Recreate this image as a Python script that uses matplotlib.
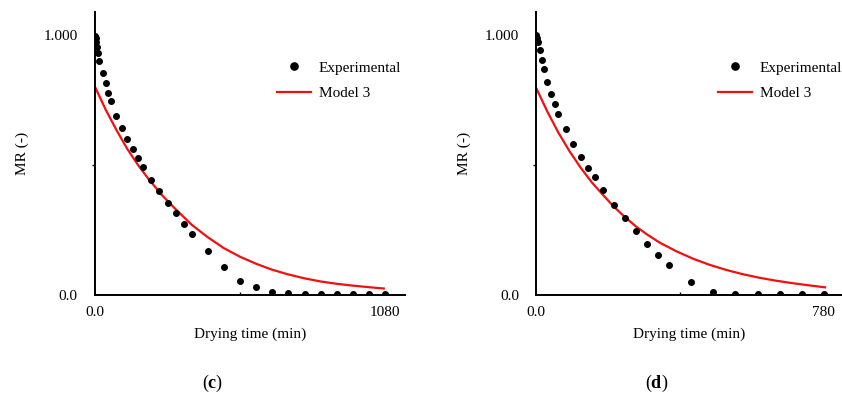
import matplotlib
matplotlib.use("Agg")
import matplotlib.pyplot as plt

plt.rcParams['font.family'] = ['Liberation Serif', 'DejaVu Serif']
plt.rcParams['mathtext.fontset'] = 'custom'
plt.rcParams['mathtext.rm'] = 'Liberation Serif'
plt.rcParams['mathtext.bf'] = 'Liberation Serif:bold'

font_size = 11

# panel (c)
c_time = [0, 2.5, 5, 7.5, 10, 15, 30, 40, 50, 60, 80, 100, 120, 140, 160, 180, 210,
          240, 270, 300, 330, 360, 420, 480, 540, 600, 660, 720, 780, 840, 900,
          960, 1020, 1080]
c_mr = [0.996, 0.988, 0.974, 0.955, 0.929, 0.901, 0.855, 0.814, 0.778, 0.744, 0.690,
        0.642, 0.600, 0.560, 0.526, 0.491, 0.441, 0.399, 0.355, 0.314, 0.273, 0.236,
        0.169, 0.109, 0.054, 0.031, 0.013, 0.006, 0.004, 0.003, 0.003, 0.003, 0.003,
        0.003]
c_model_time = [0, 40, 80, 120, 160, 200, 250, 300, 360, 420, 480, 540, 600, 660, 720,
                780, 840, 900, 960, 1020, 1075]
c_model_mr = [0.800, 0.712, 0.634, 0.562, 0.500, 0.445, 0.383, 0.330, 0.270, 0.222,
              0.180, 0.147, 0.120, 0.097, 0.079, 0.064, 0.052, 0.043, 0.036, 0.030,
              0.025]

# panel (d)
d_time = [0, 2.5, 5, 10, 15, 20, 30, 40, 50, 60, 80, 100, 120, 140, 160, 180, 210,
          240, 270, 300, 330, 360, 420, 480, 540, 600, 660, 720, 780]
d_mr = [1.000, 0.987, 0.971, 0.940, 0.904, 0.869, 0.818, 0.772, 0.733, 0.696, 0.638,
        0.581, 0.532, 0.487, 0.453, 0.404, 0.346, 0.295, 0.245, 0.197, 0.153, 0.114,
        0.049, 0.012, 0.003, 0.002, 0.002, 0.002, 0.002]
d_model_time = [0, 30, 60, 90, 120, 150, 180, 210, 240, 270, 300, 335, 380, 426, 470,
                516, 560, 606, 650, 697, 740, 783]
d_model_mr = [0.795, 0.705, 0.624, 0.553, 0.490, 0.434, 0.386, 0.340, 0.300, 0.264,
              0.233, 0.201, 0.168, 0.139, 0.116, 0.096, 0.080, 0.066, 0.055, 0.045,
              0.037, 0.0295]

panels = [
    # time, mr, model time, model mr, end tick, x max, axes rect, legend x, caption x
    (c_time, c_mr, c_model_time, c_model_mr, 1080, 1154,
     [95 / 842, 101 / 396, 310 / 842, 283 / 396], 277 / 842, 213 / 842, 'c'),
    (d_time, d_mr, d_model_time, d_model_mr, 780, 829,
     [536.3 / 842, 101 / 396, 305.7 / 842, 283 / 396], 718 / 842, 657 / 842, 'd'),
]

fig = plt.figure(figsize=(8.42, 3.96), dpi=100)
fig.patch.set_facecolor('white')

for t, mr, mt, mm, xend, xmax, rect, legx, capx, letter in panels:
    ax = fig.add_axes(rect)
    ax.plot(t, mr, 'o', color='black', ms=4, label='Experimental', zorder=3)
    ax.plot(mt, mm, '-', color='#f01010', lw=1.6, label='Model 3', zorder=2)
    ax.set_xlim(0, xmax)
    ax.set_ylim(0, 1.088)
    for s in ['top', 'right']:
        ax.spines[s].set_visible(False)
    for s in ['left', 'bottom']:
        ax.spines[s].set_linewidth(1.4)
    ax.set_yticks([0, 1.0])
    ax.set_yticklabels(['0.0', '1.000'])
    ax.set_yticks([0.5], minor=True)
    ax.set_xticks([0, xend])
    ax.set_xticklabels(['0.0', str(xend)])
    ax.set_xticks([xend / 2], minor=True)
    ax.tick_params(axis='both', which='major', length=0, labelsize=font_size)
    ax.tick_params(axis='y', which='major', pad=12.5)
    ax.tick_params(axis='x', which='major', pad=8)
    ax.tick_params(axis='y', which='minor', length=2.5, width=1, direction='out')
    ax.tick_params(axis='x', which='minor', length=2, width=1, direction='in')
    ax.set_xlabel('Drying time (min)', fontsize=font_size, labelpad=6)
    ax.set_ylabel('MR (-)', fontsize=font_size, labelpad=10)
    ax.legend(loc='upper left', bbox_to_anchor=(legx, 1 - 61 / 396),
              bbox_transform=fig.transFigure, frameon=False, fontsize=font_size,
              borderpad=0, borderaxespad=0, handlelength=2.2, handletextpad=0.55,
              labelspacing=0.75, markerscale=1.3)
    fig.text(capx, 1 - 383 / 396, r'($\mathbf{' + letter + r'}$)', fontsize=13,
             ha='center', va='center')

fig.savefig('out.png', dpi=100)
